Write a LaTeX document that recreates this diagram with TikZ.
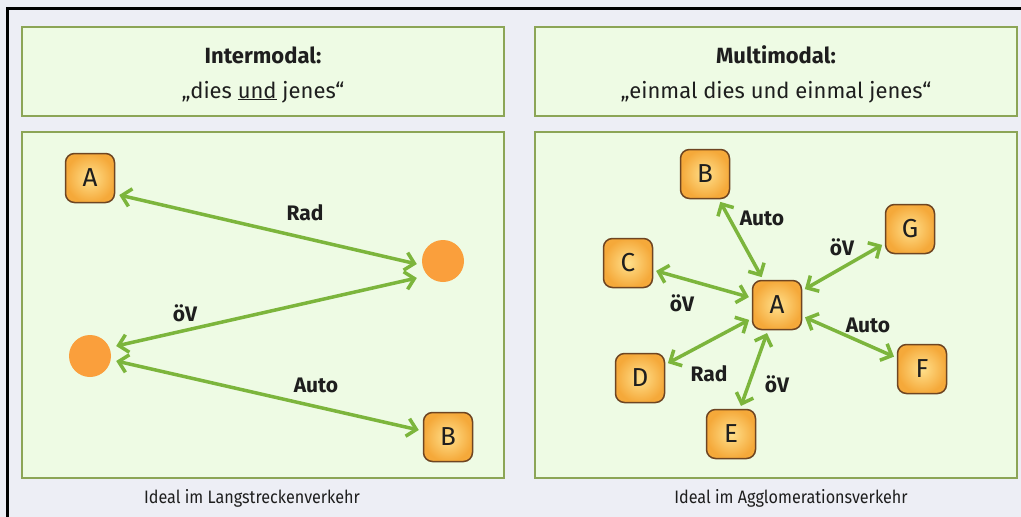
\documentclass[tikz,border=0pt]{standalone}
\usepackage{fontspec}
\setmainfont{Fira Sans}
\newfontfamily\capfont[FakeStretch=0.9]{Fira Sans}
\usetikzlibrary{arrows.meta}
\definecolor{bgcol}{HTML}{EDEEF5}
\definecolor{panelfill}{HTML}{EEFBE4}
\definecolor{panelborder}{HTML}{8CA556}
\definecolor{linkcol}{HTML}{7CB53C}
\definecolor{stopcol}{HTML}{FA9F3C}
\definecolor{locinner}{HTML}{FFE08C}
\definecolor{locouter}{HTML}{F5A93A}
\definecolor{locborder}{HTML}{6E4522}
\definecolor{inktext}{HTML}{1E1E1E}
\begin{document}
\begin{tikzpicture}[x=1pt,y=-1pt,
  panel/.style={draw=panelborder, line width=1.6pt, fill=panelfill},
  loc/.style={draw=locborder, line width=1.5pt, rounded corners=9pt,
    minimum width=49pt, minimum height=49pt, inner sep=0pt,
    inner color=locinner, outer color=locouter,
    font=\fontsize{26}{26}\selectfont, text=inktext},
  transfer/.style={circle, fill=stopcol, minimum size=42pt, inner sep=0pt},
  link/.style={draw=linkcol, line width=3.5pt,
    {Straight Barb[length=9pt,width=18pt]}-{Straight Barb[length=9pt,width=18pt]}},
  hub/.style={link, shorten <=3pt, shorten >=3pt},
  lbl/.style={font=\bfseries\fontsize{21}{21}\selectfont, text=inktext},
  headtxt/.style={anchor=base, font=\fontsize{22}{22}\selectfont, text=inktext},
  headbold/.style={anchor=base, font=\bfseries\fontsize{22}{22}\selectfont, text=inktext},
  captxt/.style={anchor=base, font=\capfont\fontsize{18}{18}\selectfont, text=inktext}
]
% page and frame
\fill[bgcol] (0,0) rectangle (1021,517);
\useasboundingbox (0,0) rectangle (1021,517);
\draw[line width=3pt, line cap=rect] (7,517) -- (7,8) -- (1021,8);

% panels
\draw[panel] (22,27) rectangle (504,116);
\draw[panel] (535,27) rectangle (1017,116);
\draw[panel] (22,132) rectangle (504,478);
\draw[panel] (535,132) rectangle (1017,478);

% headings
\node[headbold] (t1) at (263,63) {Intermodal:};
\node[headtxt] (s1t) at (263,98) {„dies \underline{und} jenes“};
\node[headbold] (t2) at (776,63) {Multimodal:};
\node[headtxt] (s2t) at (776,98) {„einmal dies und einmal jenes“};

% captions
\node[captxt] (c1) at (252,503) {Ideal im Langstreckenverkehr};
\node[captxt] (c2) at (791,503) {Ideal im Agglomerationsverkehr};

% intermodal chain
\node[loc] (lA) at (90,178) {A};
\node[transfer] (p1) at (443,261) {};
\node[transfer] (p2) at (90,356) {};
\node[loc] (lB) at (448,437) {B};

\draw[link] ([shift={(4,17)}]lA.east) -- ([shift={(-5,3)}]p1.west);
\draw[link] ([shift={(-5,17)}]p1.west) -- ([shift={(5,-10)}]p2.east);
\draw[link] ([shift={(5,5)}]p2.east) -- ([shift={(-4,-7)}]lB.west);

\node[lbl] (r1) at (305,213) {Rad};
\node[lbl] (r2) at (185,313) {öV};
\node[lbl] (r3) at (316,385) {Auto};

% multimodal star
\node[loc] (mA) at (777,305) {A};
\node[loc] (mB) at (705,174) {B};
\node[loc] (mC) at (628,263) {C};
\node[loc] (mG) at (910,229) {G};
\node[loc] (mD) at (640,378) {D};
\node[loc] (mE) at (731,434) {E};
\node[loc] (mF) at (922,369) {F};

\draw[hub] (mB) -- (mA);
\draw[hub] (mG) -- (mA);
\draw[hub] (mC) -- (mA);
\draw[hub] (mD) -- (mA);
\draw[hub] (mF) -- (mA);
\draw[hub] (mE) -- (mA);

\node[lbl] (q1) at (762,218) {Auto};
\node[lbl] (q2) at (842,247) {öV};
\node[lbl] (q3) at (682,303) {öV};
\node[lbl] (q4) at (868,325) {Auto};
\node[lbl] (q5) at (709,374) {Rad};
\node[lbl] (q6) at (777,384) {öV};
\end{tikzpicture}
\end{document}
